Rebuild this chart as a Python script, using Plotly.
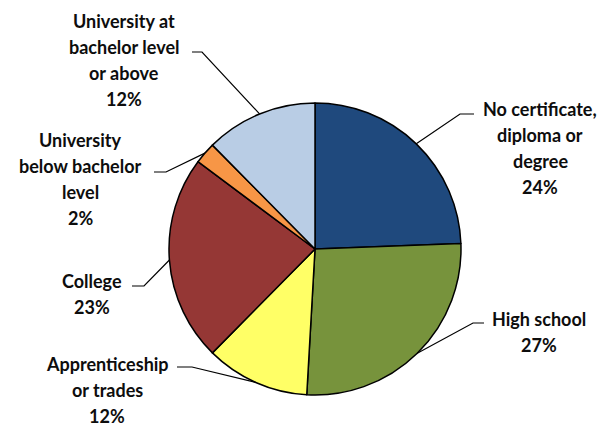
import math
import plotly.graph_objects as go

W, H = 608, 426

categories = ["No certificate, diploma or degree", "High school", "Apprenticeship or trades",
              "College", "University below bachelor level", "University at bachelor level or above"]
values = [24.4, 26.5, 11.5, 22.8, 2.4, 12.4]
label_lines = [["No certificate,", "diploma or", "degree", "24%"],
               ["High school", "27%"],
               ["Apprenticeship", "or trades", "12%"],
               ["College", "23%"],
               ["University", "below bachelor", "level", "2%"],
               ["University at", "bachelor level", "or above", "12%"]]
colors = ["#1F497D", "#77933C", "#FFFF66", "#953735", "#F79646", "#B9CDE5"]

# pie geometry (pixels)
CX, CY, R = 315, 249, 146

# label x centre and first-line y centre (pixels), line step, leader elbow points (pixels)
label_pos = [(540, 109), (539, 319), (107, 364), (92, 281), (80, 140), (124, 21)]
LINE_STEP = 26
elbows = [((474, 114), (460, 114)),
          ((484, 323), (473, 323)),
          ((177, 367), (192, 367)),
          ((132, 286), (144, 286)),
          ((154, 172), (166, 172)),
          ((192, 52), (202, 52))]


def px(x, y):
    return x / W, 1 - y / H


fig = go.Figure(go.Pie(
    labels=categories, values=values, sort=False, direction="clockwise", rotation=0,
    marker=dict(colors=colors, line=dict(color="black", width=1.5)),
    textinfo="none", hoverinfo="label+percent", showlegend=False,
    domain=dict(x=[(CX - R) / W, (CX + R) / W], y=[1 - (CY + R) / H, 1 - (CY - R) / H]),
))

total = sum(values)
cum = 0
shapes = []
annotations = []
for i, v in enumerate(values):
    mid = (cum + v / 2) / total * 2 * math.pi
    cum += v
    ex, ey = CX + R * math.sin(mid), CY - R * math.cos(mid)
    (ax, ay), (bx, by) = elbows[i]
    p0, p1, p2 = px(ax, ay), px(bx, by), px(ex, ey)
    shapes.append(dict(type="path", xref="paper", yref="paper",
                       path=f"M {p0[0]} {p0[1]} L {p1[0]} {p1[1]} L {p2[0]} {p2[1]}",
                       line=dict(color="black", width=1.2)))
    x0, y0 = label_pos[i]
    for j, line in enumerate(label_lines[i]):
        lx, ly = px(x0, y0 + j * LINE_STEP)
        annotations.append(dict(x=lx, y=ly, xref="paper", yref="paper", xanchor="center", yanchor="middle",
                                text="<b>" + line + "</b>", showarrow=False, align="center",
                                font=dict(family="Lato", size=18, color="#0d0d0d")))

fig.update_layout(width=W, height=H, margin=dict(l=0, r=0, t=0, b=0),
                  paper_bgcolor="white", plot_bgcolor="white",
                  shapes=shapes, annotations=annotations)
fig.write_html("out.html", config={"displayModeBar": False},
               post_script="document.body.style.margin='0';")
